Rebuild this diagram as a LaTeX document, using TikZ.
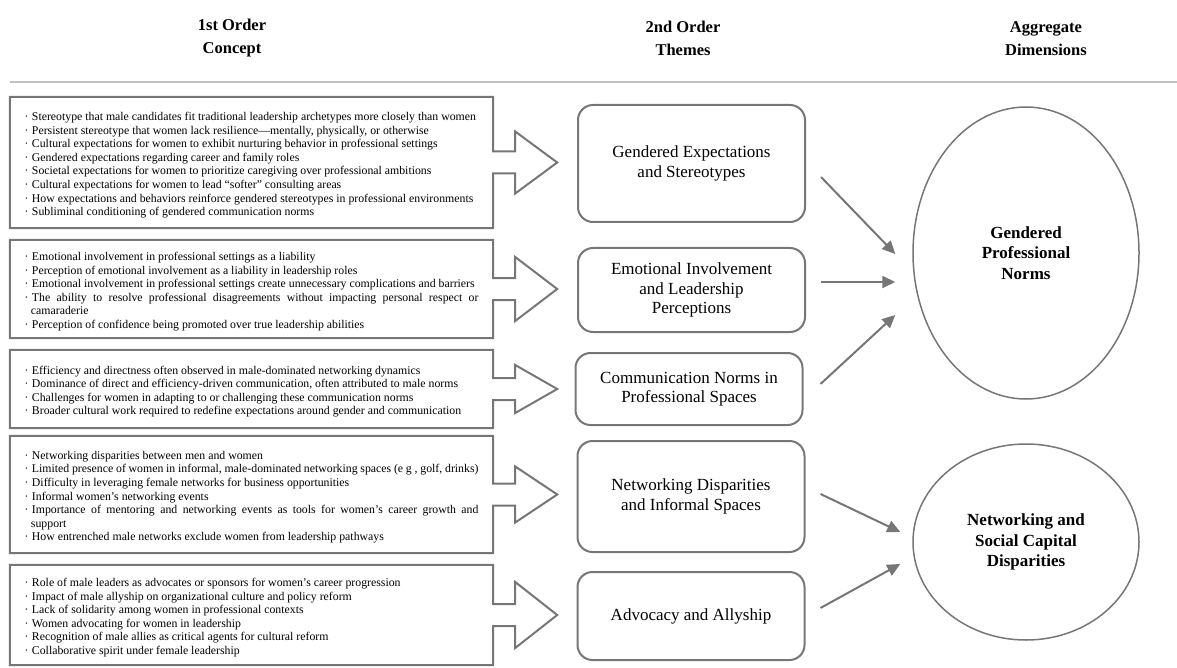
\documentclass[tikz,border=0pt]{standalone}
\usepackage{fontspec}
\setmainfont{Liberation Serif}
\usetikzlibrary{arrows.meta}
\usetikzlibrary{shapes.geometric}
\definecolor{linegray}{RGB}{118,118,118}
\definecolor{rulegray}{RGB}{192,192,192}
\hyphenpenalty=10000
\newcommand{\itm}[1]{\par\hangindent=0.55em\hangafter=1\noindent ·\hspace{0.3em}#1}
\newcommand{\conceptarrow}[2]{%
  \draw[linegray, line width=2pt] (#1.north west) -- (#1.north east) -- ([yshift=11pt]#1.east)
    -- ++(22,0) -- ++(0,{11-#2}) -- ++(42,#2) -- ++(-42,#2) -- ++(0,{11-#2}) -- ++(-22,0)
    -- (#1.south east) -- (#1.south west) -- cycle;}

\begin{document}
\begin{tikzpicture}[x=1pt, y=-1pt,
    head/.style={align=center, font=\bfseries\fontsize{16.5}{23}\selectfont},
    concept/.style={text width=454pt, align=justify, minimum width=483pt, minimum height=#1, inner sep=0pt, font=\fontsize{11.8}{13.6}\selectfont},
    theme/.style={draw=linegray, line width=2pt, rounded corners=15pt, minimum width=227pt, minimum height=#1, inner sep=0pt, align=center, font=\fontsize{17}{19.5}\selectfont},
    dimension/.style={ellipse, draw=linegray, line width=1.5pt, minimum width=226pt, minimum height=#1, inner sep=0pt, align=center, font=\bfseries\fontsize{17}{20.5}\selectfont},
    conn/.style={linegray, line width=2pt, -{Triangle[length=13pt, width=12pt]}}]
\useasboundingbox (0,0) rectangle (1177,668);

\node[head] (hfirst)  at (232,38.5)  {1st Order\\Concept};
\node[head] (hsecond) at (683,38.5)  {2nd Order\\Themes};
\node[head] (hagg)    at (1046,38.5) {Aggregate\\Dimensions};
\draw[rulegray, line width=2pt] (10,82) -- (1177,82);

\node[concept=131pt] (cstereo) at (251.5,162.5) {%
  \itm{Stereotype that male candidates fit traditional leadership archetypes more closely than women}
  \itm{Persistent stereotype that women lack resilience—mentally, physically, or otherwise}
  \itm{Cultural expectations for women to exhibit nurturing behavior in professional settings}
  \itm{Gendered expectations regarding career and family roles}
  \itm{Societal expectations for women to prioritize caregiving over professional ambitions}
  \itm{Cultural expectations for women to lead “softer” consulting areas}
  \itm{How expectations and behaviors reinforce gendered stereotypes in professional environments}
  \itm{Subliminal conditioning of gendered communication norms}};
\node[concept=98pt] (cemotion) at (251.5,289) {%
  \itm{Emotional involvement in professional settings as a liability}
  \itm{Perception of emotional involvement as a liability in leadership roles}
  \itm{Emotional involvement in professional settings create unnecessary complications and barriers}
  \itm{The ability to resolve professional disagreements without impacting personal respect or\linebreak camaraderie}
  \itm{Perception of confidence being promoted over true leadership abilities}};
\node[concept=78pt] (ccomm) at (251.5,389) {%
  \itm{Efficiency and directness often observed in male-dominated networking dynamics}
  \itm{Dominance of direct and efficiency-driven communication, often attributed to male norms}
  \itm{Challenges for women in adapting to or challenging these communication norms}
  \itm{Broader cultural work required to redefine expectations around gender and communication}};
\node[concept=117pt] (cnetwork) at (251.5,494.5) {%
  \itm{Networking disparities between men and women}
  \itm{Limited presence of women in informal, male-dominated networking spaces (e g , golf, drinks)}
  \itm{Difficulty in leveraging female networks for business opportunities}
  \itm{Informal women’s networking events}
  \itm{Importance of mentoring and networking events as tools for women’s career growth and\linebreak support}
  \itm{How entrenched male networks exclude women from leadership pathways}};
\node[concept=100pt] (cally) at (251.5,615) {%
  \itm{Role of male leaders as advocates or sponsors for women’s career progression}
  \itm{Impact of male allyship on organizational culture and policy reform}
  \itm{Lack of solidarity among women in professional contexts}
  \itm{Women advocating for women in leadership}
  \itm{Recognition of male allies as critical agents for cultural reform}
  \itm{Collaborative spirit under female leadership}};

\conceptarrow{cstereo}{31}
\conceptarrow{cemotion}{32}
\conceptarrow{ccomm}{24}
\conceptarrow{cnetwork}{28}
\conceptarrow{cally}{33}

\node[theme=117pt] (tstereo)  at (691.5,163.5) {Gendered Expectations\\and Stereotypes};
\node[theme=84pt]  (temotion) at (691.5,290)   {Emotional Involvement\\and Leadership\\Perceptions};
\node[theme=72pt]  (tcomm)    at (689,389)     {Communication Norms in\\Professional Spaces};
\node[theme=111pt] (tnetwork) at (691,496.5)   {Networking Disparities\\and Informal Spaces};
\node[theme=88pt]  (tally)    at (691,616)     {Advocacy and Allyship};

\node[dimension=292pt] (dnorms)   at (1026,253) {Gendered\\Professional\\Norms};
\node[dimension=196pt] (dcapital) at (1026,542) {Networking and\\Social Capital\\Disparities};

\draw[conn] ([xshift=15pt, yshift=-13.5pt]tstereo.east) -- ([xshift=-17pt, yshift=-1pt]dnorms.west);
\draw[conn] ([xshift=15pt, yshift=8pt]temotion.east)    -- ([xshift=-17pt, yshift=-29pt]dnorms.west);
\draw[conn] ([xshift=17pt, yshift=5pt]tcomm.east)       -- ([xshift=-17pt, yshift=-62pt]dnorms.west);
\draw[conn] ([xshift=15pt, yshift=2.5pt]tnetwork.east)  -- ([xshift=-12pt, yshift=10pt]dcapital.west);
\draw[conn] ([xshift=15pt, yshift=8pt]tally.east)       -- ([xshift=-12pt, yshift=-22pt]dcapital.west);
\end{tikzpicture}
\end{document}
